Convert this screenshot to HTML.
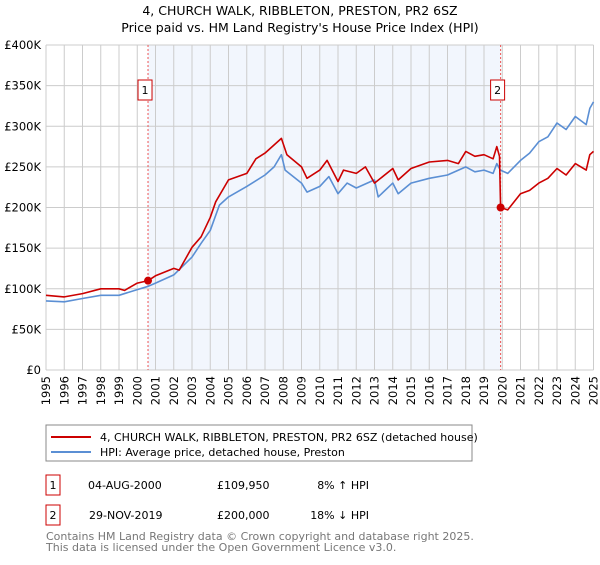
<!DOCTYPE html>
<html><head><meta charset="utf-8"><style>
body{margin:0;background:#fff;font-family:"Liberation Sans","DejaVu Sans",sans-serif;}
svg text{font-family:"DejaVu Sans","Liberation Sans",sans-serif;}
</style></head><body>
<svg width="600" height="560" xmlns="http://www.w3.org/2000/svg" id="c">
<text x="300" y="15" text-anchor="middle" font-size="12.5">4, CHURCH WALK, RIBBLETON, PRESTON, PR2 6SZ</text>
<text x="300" y="32" text-anchor="middle" font-size="12.5">Price paid vs. HM Land Registry's House Price Index (HPI)</text>
<g id="plot"></g>
<rect x="46" y="425" width="426" height="36" fill="#fff" stroke="#888"/>
<line x1="51" y1="437" x2="91" y2="437" stroke="#cc0000" stroke-width="2"/>
<text x="100" y="441" font-size="11">4, CHURCH WALK, RIBBLETON, PRESTON, PR2 6SZ (detached house)</text>
<line x1="51" y1="452" x2="91" y2="452" stroke="#5b8fd4" stroke-width="2"/>
<text x="100" y="456" font-size="11">HPI: Average price, detached house, Preston</text>
<g font-size="11">
<rect x="46" y="475" width="14" height="20" fill="#fff" stroke="#cc0000"/>
<text x="53" y="489" text-anchor="middle">1</text>
<text x="88" y="489">04-AUG-2000</text>
<text x="217" y="489">£109,950</text>
<text x="369" y="489" text-anchor="end">8% ↑ HPI</text>
<rect x="46" y="505" width="14" height="20" fill="#fff" stroke="#cc0000"/>
<text x="53" y="519" text-anchor="middle">2</text>
<text x="89" y="519">29-NOV-2019</text>
<text x="217" y="519">£200,000</text>
<text x="369" y="519" text-anchor="end">18% ↓ HPI</text>
</g>
<text x="46" y="540" font-size="11" fill="#777">Contains HM Land Registry data © Crown copyright and database right 2025.</text>
<text x="46" y="551" font-size="11" fill="#777">This data is licensed under the Open Government Licence v3.0.</text>
</svg>
<script>
const hpiYears=[1995,1996,1997,1998,1999,2000,2000.6,2001,2002,2003,2003.5,2004,2004.5,2005,2006,2007,2007.5,2007.9,2008.1,2009,2009.3,2010,2010.5,2011,2011.5,2012,2013,2013.2,2014,2014.3,2015,2016,2017,2018,2018.5,2019,2019.5,2019.7,2019.9,2020.3,2021,2021.5,2022,2022.5,2023,2023.5,2024,2024.6,2024.8,2025];
const hpiValues=[85,84,88,92,92,99,103,107,117,139,156,172,203,213,226,240,250,265,246,230,219,226,238,217,230,224,234,213,230,217,230,236,240,250,244,246,242,254,246,242,258,267,281,287,304,296,312,302,322,330];
const priceYears=[1995,1996,1997,1998,1999,1999.3,2000,2000.6,2001,2002,2002.3,2003,2003.5,2004,2004.3,2005,2006,2006.5,2007,2007.9,2008.2,2009,2009.3,2010,2010.4,2011,2011.3,2012,2012.5,2013,2014,2014.3,2015,2016,2017,2017.6,2018,2018.5,2019,2019.5,2019.7,2019.85,2019.91,2020.3,2021,2021.5,2022,2022.5,2023,2023.5,2024,2024.6,2024.8,2025];
const priceValues=[92,90,94,100,100,98,107,110,116,125,123,151,164,188,207,234,242,260,267,285,265,250,236,246,258,232,246,242,250,230,248,234,248,256,258,254,269,263,265,260,275,263,200,197,217,221,230,236,248,240,254,246,265,269];
const saleYears=[2000.59,2019.91];
const saleValues=[109.95,200];
const saleLabels=["1","2"];
const yTicks=[0,50,100,150,200,250,300,350,400];
const yTickLabels=["£0","£50K","£100K","£150K","£200K","£250K","£300K","£350K","£400K"];
const xTicks=[1995,1996,1997,1998,1999,2000,2001,2002,2003,2004,2005,2006,2007,2008,2009,2010,2011,2012,2013,2014,2015,2016,2017,2018,2019,2020,2021,2022,2023,2024,2025];

const L=46,R=593.5,T=45,B=370;
const xs=y=>L+(y-1995)/30*(R-L);
const ys=v=>B-v/400*(B-T);
const NS="http://www.w3.org/2000/svg";
const g=document.getElementById('plot');
function mk(tag,attrs,parent){const e=document.createElementNS(NS,tag);for(const k in attrs)e.setAttribute(k,attrs[k]);(parent||g).appendChild(e);return e;}

const bg=mk('rect',{x:L,y:T,width:R-L,height:B-T,fill:'#fff'});


const sh=mk('rect',{x:xs(saleYears[0]),y:T,width:xs(saleYears[1])-xs(saleYears[0]),height:B-T,fill:'#f2f6fd'});


xTicks.forEach(t=>{
  const l=mk('line',{x1:xs(t),x2:xs(t),y1:T,y2:B,stroke:'#cccccc','stroke-width':1});
  
  
  const tx=mk('text',{x:0,y:0,'font-size':11.5,'text-anchor':'end',transform:`translate(${xs(t)+4},${B+6}) rotate(-90)`});
  tx.textContent=t;
  
  
});
yTicks.forEach((t,i)=>{
  const l=mk('line',{x1:L,x2:R,y1:ys(t),y2:ys(t),stroke:'#cccccc','stroke-width':1});
  
  
  const tx=mk('text',{x:L-5,y:ys(t)+4,'font-size':11.5,'text-anchor':'end'});
  tx.textContent=yTickLabels[i];
  
  
});
saleYears.forEach((s,i)=>{
  const l=mk('line',{x1:xs(s),x2:xs(s),y1:T,y2:B,stroke:'#ee5555','stroke-width':1,'stroke-dasharray':'2,2'});
  
  
});
function path(xa,va,color,name){
  const d=xa.map((x,i)=>(i?'L':'M')+xs(x).toFixed(1)+','+ys(va[i]).toFixed(1)).join('');
  const p=mk('path',{d:d,fill:'none',stroke:color,'stroke-width':1.6,'stroke-linejoin':'round'});
  
  
}
path(hpiYears,hpiValues,'#5b8fd4','hpi-line');
path(priceYears,priceValues,'#cc0000','property-price-line');
saleYears.forEach((s,i)=>{
  const c=mk('circle',{cx:xs(s),cy:ys(saleValues[i]),r:4,fill:'#cc0000'});
  
  
  const bx=xs(s)-3;
  const r=mk('rect',{x:bx-7,y:80,width:14,height:20,fill:'#fff',stroke:'#cc0000'});
  
  
  const t=mk('text',{x:bx,y:94,'font-size':11,'text-anchor':'middle'});
  t.textContent=saleLabels[i];
  
  
});
</script>
</body></html>
